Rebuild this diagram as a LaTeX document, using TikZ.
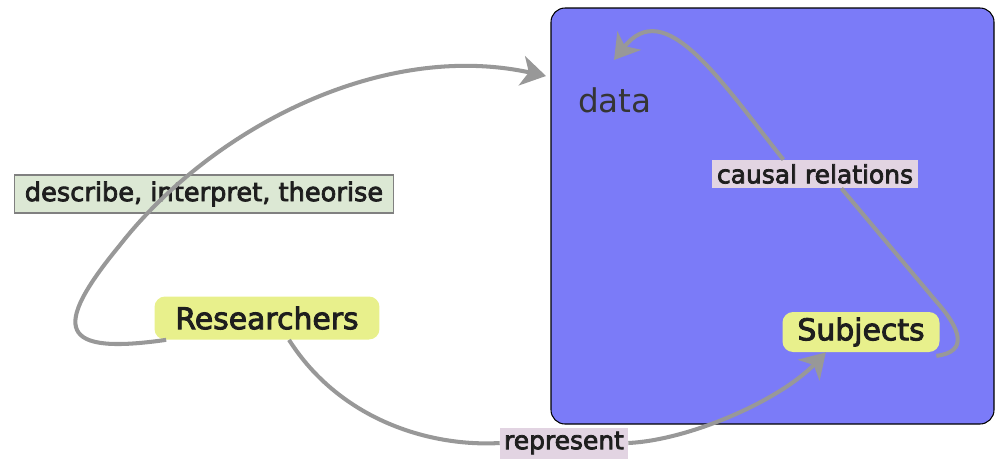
\documentclass[tikz,border=0pt]{standalone}
\usepackage{fontspec}
\setmainfont{DejaVu Sans}
\newfontfamily\mapfont{DejaVu Sans}[FakeBold=3]
\usetikzlibrary{arrows.meta}

\definecolor{boxblue}{RGB}{123,123,248}
\definecolor{conceptyellow}{RGB}{232,240,140}
\definecolor{greenlabel}{RGB}{220,232,212}
\definecolor{lilaclabel}{RGB}{226,212,226}
\definecolor{flowgray}{RGB}{152,152,152}
\definecolor{inktext}{RGB}{30,30,30}

\tikzset{
  concept/.style={fill=conceptyellow, rounded corners=6pt, text=inktext,
    font=\mapfont\fontsize{17}{20}\selectfont, inner sep=0pt},
  linklabel/.style={fill=lilaclabel, text=inktext,
    font=\mapfont\fontsize{14.2}{17}\selectfont, inner sep=0pt},
  flowline/.style={draw=flowgray, line width=2.3pt},
  flow/.style={flowline, -{Stealth[length=14pt,width=17pt,inset=4pt]}}
}

\begin{document}
\begin{tikzpicture}[x=0.02cm,y=-0.02cm]
\useasboundingbox (0,0) rectangle (996,461);
% the data frame
\draw[fill=boxblue, rounded corners=8pt, line width=0.6pt] (551,8) rectangle (994,424);
\node[text=inktext!90, font=\fontsize{18.6}{22}\selectfont] (data) at (615,100) {data};

\node[concept, minimum width=4.5cm, minimum height=0.86cm] (res) at (267,318) {Researchers};
\node[concept, minimum width=3.14cm, minimum height=0.8cm] (subj) at (861,332) {Subjects};
\node[fill=greenlabel, draw=gray, line width=0.6pt, text=inktext, inner sep=0pt,
  font=\mapfont\fontsize{14.6}{17}\selectfont, minimum width=7.6cm, minimum height=0.76cm]
  (desc) at (204,194) {describe, interpret, theorise};
\node[linklabel, minimum width=4.12cm, minimum height=0.56cm] (rel) at (815,174) {causal relations};
\node[linklabel, minimum width=2.56cm, minimum height=0.62cm] (rep) at (564,443) {represent};

% connectors
\draw[flow] (res.south west) ++(12,0) .. controls (60,355) and (50,330) .. (120,245)
  .. controls (210,130) and (380,40) .. (546,76);
\draw[flowline] (res.south) ++(22,0) .. controls (340,420) and (430,447) .. (rep.west);
\draw[flow] (rep.east) .. controls (690,440) and (780,400) .. ([xshift=-20]subj.south);
\draw[flowline] ([xshift=-2,yshift=-2]subj.south east) .. controls (968,352) and (962,330) .. (935,300)
  -- ([xshift=15]rel.south);
\draw[flow] ([xshift=-18]rel.north) .. controls (720,80) and (665,-5) .. (614,60);
\end{tikzpicture}
\end{document}
